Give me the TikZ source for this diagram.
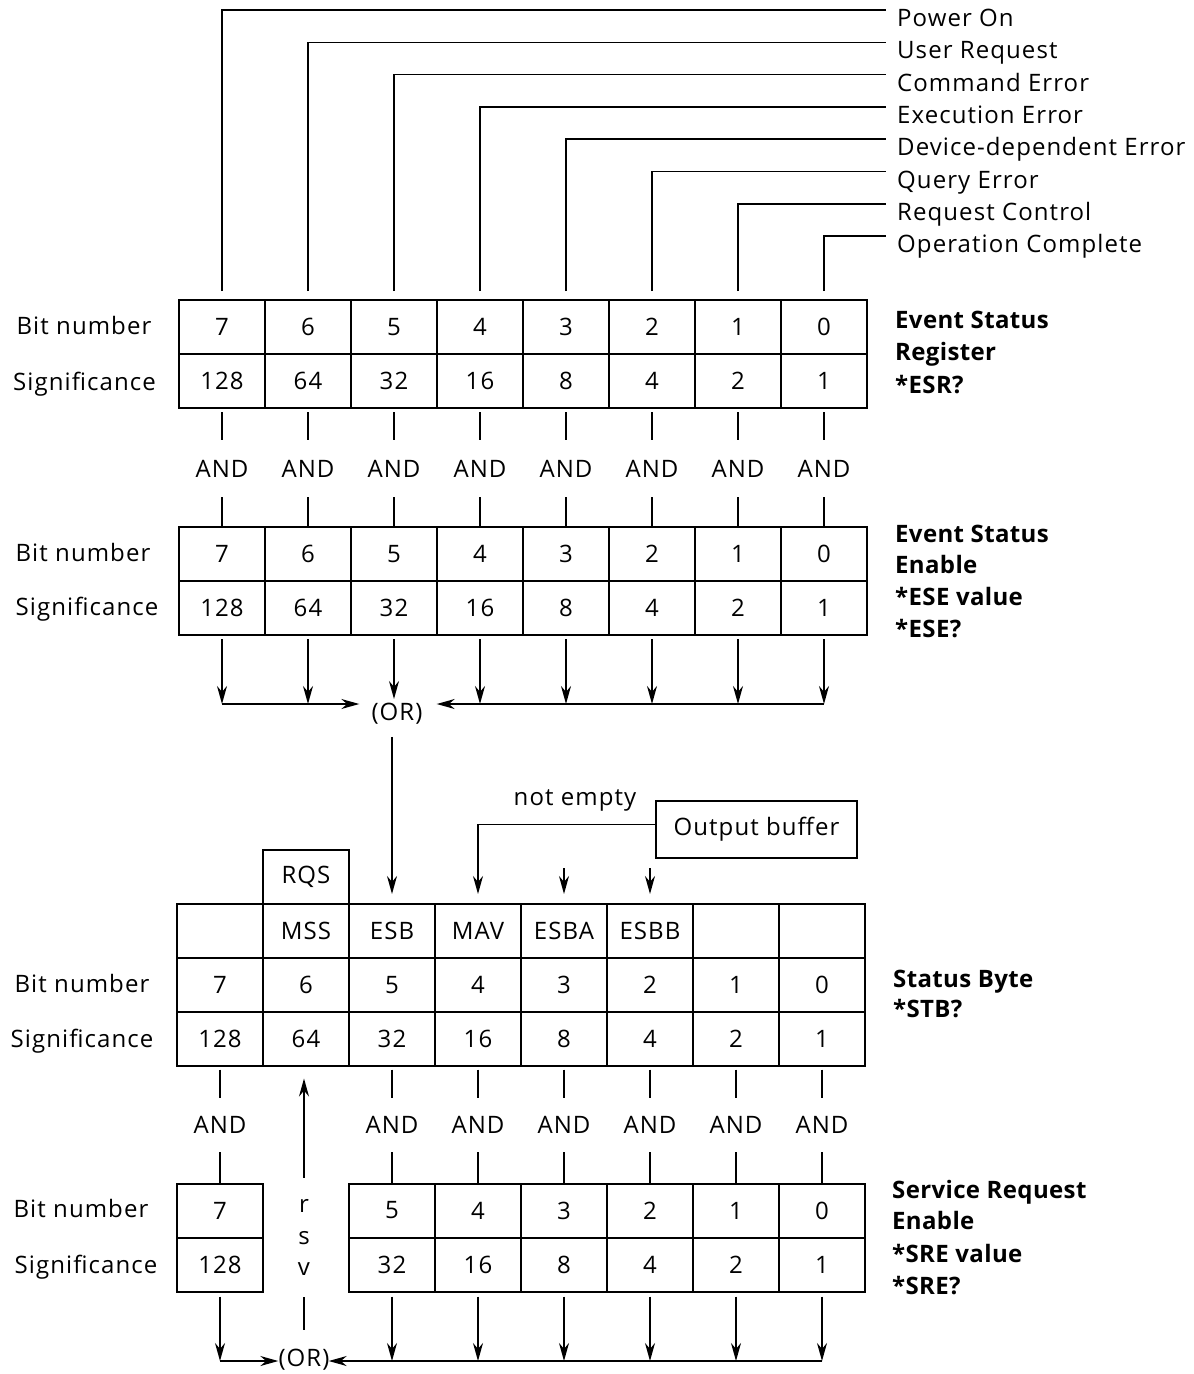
\documentclass[tikz,border=0pt]{standalone}
\usepackage{fontspec}
\setmainfont{Open Sans}[LetterSpace=4.5, BoldFeatures={LetterSpace=1.5}]
\usetikzlibrary{arrows.meta}
\begin{document}
\begin{tikzpicture}[x=1pt,y=-1pt,
  every node/.style={font=\fontsize{24}{28}\selectfont, inner sep=0pt},
  cell/.style={draw, line width=2pt, minimum width=86pt, minimum height=54pt},
  andn/.style={minimum height=57pt},
  andm/.style={minimum height=54pt},
  wire/.style={line width=1.6pt},
  arr/.style={wire, -{Stealth[length=18pt,width=10pt]}},
  lab/.style={anchor=base},
  rlab/.style={anchor=base west, font=\fontsize{24}{28}\selectfont\bfseries},
]
\useasboundingbox (0,0) rectangle (1194,1374);

% ---------- Event Status Register and Enable ----------
\foreach \b [count=\k from 0] in {7,6,5,4,3,2,1,0}{
  \pgfmathsetmacro\cx{222+86*\k}
  \pgfmathtruncatemacro\sig{2^\b}
  \pgfmathsetmacro\tipy{ifthenelse(\b==5,699,704)}
  \node[cell] (esrb\b) at (\cx,327) {\b};
  \node[cell] (esrs\b) at (\cx,381) {\sig};
  \node[andn] (anda\b) at (\cx,468.5) {AND};
  \node[cell] (eseb\b) at (\cx,554) {\b};
  \node[cell] (eses\b) at (\cx,608) {\sig};
  \draw[wire, shorten <=3pt] (esrs\b.south) -- (anda\b.north);
  \draw[wire] (anda\b.south) -- (eseb\b.north);
  \coordinate (ora\b) at (\cx,\tipy);
  \draw[arr, shorten <=3pt] (eses\b.south) -- (ora\b);
}

% ---------- event labels on top ----------
\foreach \b/\t [count=\k from 0] in {7/Power On,6/User Request,5/Command Error,4/Execution Error,3/Device-dependent Error,2/Query Error,1/Request Control,0/Operation Complete}{
  \pgfmathsetmacro\yh{10+32.3*\k}
  \node[anchor=base west] (ev\b) at (897,\yh+16.5) {\t};
  \coordinate (evl\b) at (886,\yh);
  \draw[wire] ([yshift=8pt]esrb\b.north) |- (evl\b);
}

% ---------- first OR ----------
\node (or1) at (397,714) {(OR)};
\draw[arr, shorten >=12pt] (ora7) -- (ora7 -| or1.west);
\draw[arr, shorten >=14pt] (ora0) -- (ora0 -| or1.east);

% ---------- Status Byte ----------
\foreach \b/\n [count=\k from 0] in {7/{},6/MSS,5/ESB,4/MAV,3/ESBA,2/ESBB,1/{},0/{}}{
  \pgfmathsetmacro\cx{220+86*\k}
  \pgfmathtruncatemacro\sig{2^\b}
  \node[cell] (stbn\b) at (\cx,931) {\n};
  \node[cell] (stbb\b) at (\cx,985) {\b};
  \node[cell] (stbs\b) at (\cx,1038.5) {\sig};
}
\node[cell, minimum height=54pt] (rqs) at (306,877) {RQS};

\draw[arr, shorten <=12pt, shorten >=9pt] (or1.south -| stbn5.north) -- (stbn5.north);

\node[draw, line width=2pt, minimum width=201pt, minimum height=57pt] (obuf) at (756.5,829.5) {Output buffer};
\node[anchor=base] (nempty) at (575,805) {not empty};
\draw[arr, shorten >=9pt] ([yshift=5pt]obuf.west) -| (stbn4.north);
\coordinate (esbaIn) at (564,868);
\draw[arr, shorten >=9pt] (esbaIn) -- (stbn3.north);
\coordinate (esbbIn) at (650,868);
\draw[arr, shorten >=9pt] (esbbIn) -- (stbn2.north);

% ---------- Service Request Enable ----------
\foreach \b [count=\k from 0] in {7,6,5,4,3,2,1,0}{
  \pgfmathsetmacro\cx{220+86*\k}
  \pgfmathtruncatemacro\sig{2^\b}
  \ifnum\b=6\relax\else
    \node[andm] (andb\b) at (\cx,1125) {AND};
    \node[cell] (sreb\b) at (\cx,1210.5) {\b};
    \node[cell] (sres\b) at (\cx,1264.5) {\sig};
    \draw[wire, shorten <=3pt] (stbs\b.south) -- (andb\b.north);
    \draw[wire] (andb\b.south) -- (sreb\b.north);
    \coordinate (orb\b) at (\cx,1361);
    \draw[arr, shorten <=4pt] (sres\b.south) -- (orb\b);
  \fi
}

\node[align=center, minimum height=119pt, font=\fontsize{24}{31.5}\selectfont] (rsv) at (304,1237.5) {r\\s\\v};
\draw[arr, shorten >=12pt] (rsv.north) -- (rsv.north |- stbs6.south);
\coordinate (rsvEnd) at (304,1330);
\draw[wire] (rsv.south) -- (rsvEnd);

\node (or2) at (304,1360) {(OR)};
\draw[arr] (orb7) -- (orb7 -| or2.west);
\draw[arr, shorten >=-1pt] (orb0) -- (orb0 -| or2.east);

% ---------- left labels ----------
\node[lab] (bn1) at (84,334) {Bit number};
\node[lab] (sg1) at (84.5,390) {Significance};
\node[lab] (bn2) at (83,561) {Bit number};
\node[lab] (sg2) at (87,615) {Significance};
\node[lab] (bn3) at (82,992) {Bit number};
\node[lab] (sg3) at (82,1047) {Significance};
\node[lab] (bn4) at (81,1217) {Bit number};
\node[lab] (sg4) at (86,1273) {Significance};

% ---------- right labels ----------
\node[rlab] (esr1) at (895,328) {Event Status};
\node[rlab] (esr2) at (895,360) {Register};
\node[rlab] (esr3) at (895,393) {*ESR?};
\node[rlab] (ese1) at (895,542) {Event Status};
\node[rlab] (ese2) at (895,573) {Enable};
\node[rlab] (ese3) at (895,605) {*ESE value};
\node[rlab] (ese4) at (895,637) {*ESE?};
\node[rlab] (stb1) at (893,987) {Status Byte};
\node[rlab] (stb2) at (893,1017) {*STB?};
\node[rlab] (sre1) at (892,1198) {Service Request};
\node[rlab] (sre2) at (892,1229) {Enable};
\node[rlab] (sre3) at (892,1262) {*SRE value};
\node[rlab] (sre4) at (892,1294) {*SRE?};
\end{tikzpicture}
\end{document}
